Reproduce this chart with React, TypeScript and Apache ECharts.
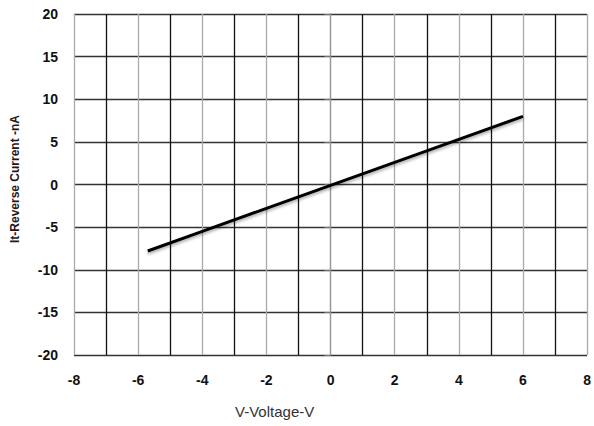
import React, { useEffect, useRef } from "react";
import * as echarts from "echarts";

const voltage = [-5.7, -4, -2, 0, 2, 4, 6];
const current = [-7.8, -5.5, -2.8, -0.1, 2.6, 5.3, 8.0];
const xTitle = "V-Voltage-V";
const yTitle = "It-Reverse Current -nA";

export default function App() {
  const ref = useRef<HTMLDivElement>(null);
  useEffect(() => {
    const chart = echarts.init(ref.current!, null, { renderer: "svg" });
    const font = "'Liberation Sans', Arial, sans-serif";
    chart.setOption({
      animation: false,
      grid: { left: 74, right: 5, top: 14, bottom: 71 },
      xAxis: {
        type: "value",
        min: -8,
        max: 8,
        interval: 2,
        axisLine: { show: false },
        axisTick: { show: false },
        axisLabel: {
          margin: 18,
          color: "#111",
          fontWeight: "bold",
          fontSize: 14,
          fontFamily: font,
        },
        splitLine: { show: true, lineStyle: { color: "#aaaaaa", width: 1.3 } },
        minorTick: { show: false, splitNumber: 2 },
        minorSplitLine: { show: true, lineStyle: { color: "#111111", width: 1.3 } },
      },
      yAxis: {
        type: "value",
        min: -20,
        max: 20,
        interval: 5,
        axisLine: { show: true, lineStyle: { color: "#999", width: 1.3 } },
        axisTick: { show: true, length: 6, lineStyle: { color: "#777" } },
        axisLabel: {
          margin: 16,
          color: "#111",
          fontWeight: "bold",
          fontSize: 14,
          fontFamily: font,
        },
        splitLine: { show: true, lineStyle: { color: "#333333", width: 1.3 } },
      },
      graphic: [
        {
          type: "text",
          left: 235,
          top: 404,
          style: { text: xTitle, fill: "#333", fontSize: 15, fontFamily: font },
        },
        {
          type: "text",
          x: 9,
          y: 243,
          rotation: Math.PI / 2,
          style: {
            text: yTitle,
            fill: "#2a1515",
            fontSize: 12,
            fontWeight: "bold",
            fontFamily: font,
          },
        },
      ],
      series: [
        {
          type: "line",
          data: voltage.map((v, i) => [v, current[i]]),
          symbol: "none",
          lineStyle: {
            color: "#000",
            width: 3,
            shadowColor: "rgba(0,0,0,0.35)",
            shadowBlur: 3,
            shadowOffsetY: 2,
          },
        },
      ],
    });
    return () => chart.dispose();
  }, []);
  return (
    <div
      ref={ref}
      style={{ position: "absolute", left: 0, top: 0, width: 594, height: 426 }}
    />
  );
}
